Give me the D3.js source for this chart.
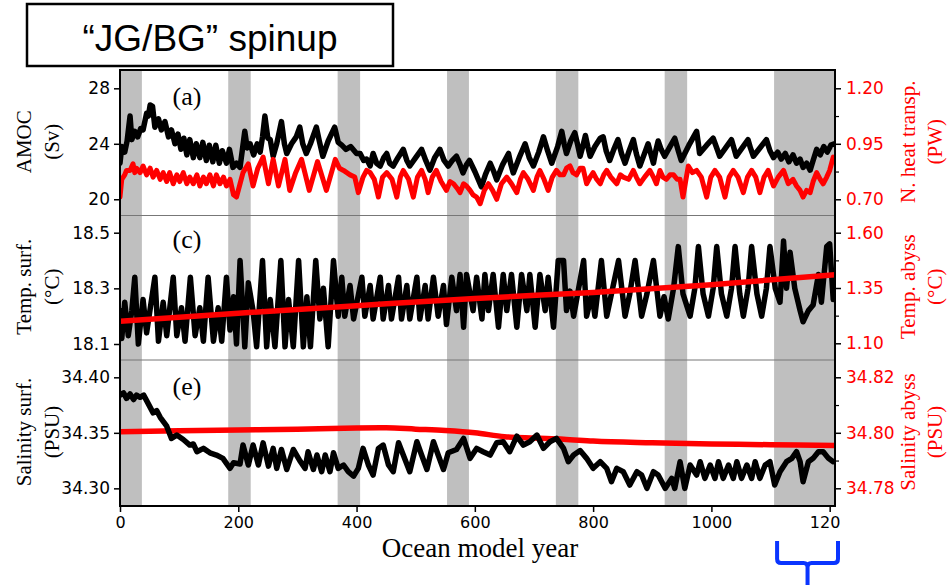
<!DOCTYPE html>
<html>
<head>
<meta charset="utf-8">
<script src="https://cdn.jsdelivr.net/npm/d3@7"></script>
<style>
  body { margin: 0; background: #fff; }
  .tick text { font-family: "DejaVu Sans", sans-serif; }
</style>
</head>
<body>
<svg width="948" height="585"></svg>
<script>
// ---- data ----
// grey spin-up windows, ocean model years
var bandStart = [0, 183, 368, 553, 737, 921, 1106];
var bandEnd   = [37, 221, 406, 590, 775, 959, 1209];

var xTicks = [0, 200, 400, 600, 800, 1000, 1200];

// (a) AMOC, Sv  [year, value]
var amoc = [[0,22.6],[3,23.8],[8,23.4],[12,24.2],[17,26.0],[20,24.3],[25,24.9],[30,24.5],[35,25.1],[39,25.0],[45,26.2],[48,26.0],[51,26.8],[55,26.7],[59,25.2],[65,25.8],[70,25.0],[76,25.6],[82,24.5],[87,25.0],[93,24.0],[98,24.7],[103,23.6],[108,24.4],[113,23.2],[118,24.3],[124,23.0],[129,24.0],[135,23.0],[140,24.1],[146,22.8],[151,23.9],[157,22.7],[162,23.9],[168,22.6],[173,23.5],[180,22.6],[185,23.6],[191,22.3],[197,22.6],[203,22.3],[207,23.6],[211,24.9],[215,23.7],[220,24.0],[226,23.2],[232,24.0],[237,23.4],[241,24.5],[245,26.0],[250,24.4],[254,24.3],[259,23.1],[265,24.0],[273,25.6],[278,24.0],[282,23.3],[290,24.0],[298,24.5],[304,25.2],[309,24.0],[315,23.3],[322,24.0],[332,25.2],[337,24.2],[343,23.1],[352,24.2],[363,25.2],[369,24.1],[375,23.9],[382,23.6],[390,23.8],[400,23.3],[406,23.3],[412,22.8],[417,22.9],[423,22.4],[428,23.3],[434,22.6],[440,22.4],[446,23.0],[451,23.3],[456,22.6],[462,22.4],[470,23.0],[479,23.6],[485,22.8],[490,22.4],[500,23.0],[510,23.6],[517,22.8],[524,22.1],[532,23.0],[541,23.6],[548,22.8],[555,22.4],[562,22.8],[569,23.1],[575,22.5],[580,21.9],[586,22.5],[591,22.8],[600,22.0],[611,20.9],[618,21.8],[626,22.6],[632,22.0],[637,21.4],[647,22.5],[657,23.3],[661,22.5],[665,21.9],[675,23.0],[685,24.0],[692,23.0],[699,22.4],[708,23.4],[716,24.5],[723,23.5],[730,22.6],[740,23.8],[747,24.9],[751,24.0],[755,23.3],[762,24.2],[769,24.8],[774,23.9],[778,23.1],[783,23.9],[787,24.6],[791,23.8],[795,23.1],[803,23.8],[812,24.4],[817,24.5],[822,23.5],[828,22.8],[835,23.6],[842,24.3],[848,23.3],[854,22.6],[861,23.5],[868,24.3],[873,23.3],[879,22.4],[886,23.2],[893,24.0],[898,23.2],[902,22.6],[906,23.5],[910,24.2],[915,23.6],[921,23.1],[930,23.8],[938,24.4],[944,23.5],[949,22.8],[962,23.9],[975,24.9],[978,24.0],[980,23.3],[992,23.9],[1003,24.4],[1009,23.7],[1014,23.1],[1024,23.7],[1034,24.3],[1038,23.7],[1042,23.1],[1052,23.7],[1062,24.3],[1066,23.7],[1071,23.1],[1082,23.7],[1093,24.3],[1099,23.5],[1105,23.0],[1112,23.4],[1118,22.9],[1125,23.3],[1131,22.7],[1138,23.2],[1144,22.6],[1150,22.9],[1155,22.3],[1161,22.6],[1167,22.1],[1172,22.8],[1178,23.6],[1184,23.2],[1190,23.8],[1196,23.4],[1202,23.9],[1208,24.0]];

// (a) northward heat transport, PW
var heat = [[0,0.71],[3,0.79],[8,0.81],[11,0.83],[17,0.83],[22,0.86],[25,0.82],[28,0.84],[34,0.82],[39,0.85],[45,0.81],[51,0.84],[56,0.80],[62,0.83],[68,0.79],[73,0.82],[79,0.78],[84,0.82],[90,0.77],[96,0.81],[101,0.78],[107,0.82],[113,0.77],[118,0.80],[124,0.77],[130,0.81],[135,0.76],[141,0.80],[146,0.77],[152,0.81],[158,0.76],[163,0.81],[169,0.77],[175,0.80],[180,0.76],[186,0.79],[192,0.72],[197,0.71],[203,0.77],[208,0.82],[217,0.86],[225,0.76],[233,0.84],[242,0.89],[251,0.77],[259,0.88],[268,0.76],[279,0.88],[287,0.74],[297,0.82],[307,0.88],[320,0.74],[334,0.87],[349,0.74],[364,0.88],[371,0.84],[378,0.83],[389,0.81],[397,0.80],[403,0.73],[411,0.80],[417,0.83],[423,0.82],[430,0.79],[437,0.71],[444,0.80],[451,0.82],[460,0.79],[468,0.71],[474,0.80],[479,0.83],[488,0.79],[496,0.71],[503,0.80],[510,0.83],[516,0.79],[521,0.73],[528,0.80],[535,0.83],[543,0.78],[552,0.74],[558,0.78],[564,0.77],[570,0.75],[575,0.73],[581,0.77],[586,0.76],[592,0.74],[597,0.72],[603,0.71],[609,0.68],[616,0.74],[623,0.77],[630,0.74],[637,0.70],[645,0.77],[654,0.80],[662,0.77],[671,0.73],[677,0.79],[682,0.82],[690,0.79],[699,0.74],[705,0.80],[710,0.83],[717,0.79],[724,0.74],[731,0.80],[738,0.83],[744,0.81],[750,0.81],[755,0.84],[761,0.85],[766,0.82],[772,0.81],[778,0.84],[783,0.84],[789,0.77],[795,0.80],[800,0.82],[806,0.79],[812,0.77],[818,0.81],[823,0.83],[830,0.80],[840,0.77],[846,0.81],[851,0.80],[860,0.79],[868,0.83],[873,0.80],[879,0.77],[887,0.80],[896,0.83],[902,0.80],[907,0.77],[913,0.83],[918,0.80],[924,0.79],[930,0.81],[936,0.81],[942,0.79],[947,0.79],[952,0.71],[957,0.79],[961,0.85],[968,0.82],[975,0.83],[983,0.80],[992,0.71],[999,0.80],[1006,0.83],[1014,0.80],[1023,0.71],[1030,0.80],[1037,0.83],[1045,0.80],[1054,0.73],[1061,0.80],[1068,0.83],[1075,0.80],[1082,0.73],[1089,0.80],[1096,0.83],[1101,0.79],[1105,0.76],[1113,0.80],[1122,0.83],[1130,0.77],[1138,0.79],[1144,0.76],[1150,0.74],[1155,0.71],[1161,0.74],[1167,0.73],[1172,0.78],[1178,0.82],[1184,0.79],[1189,0.77],[1195,0.80],[1200,0.83],[1206,0.89]];

// (c) surface temperature, degC
var tSurf = [[0,18.22],[3,18.12],[8,18.25],[14,18.13],[20,18.22],[25,18.34],[31,18.10],[39,18.26],[45,18.14],[59,18.34],[65,18.11],[73,18.25],[79,18.13],[90,18.34],[96,18.13],[104,18.23],[110,18.11],[119,18.34],[127,18.13],[135,18.23],[141,18.11],[149,18.34],[158,18.11],[166,18.23],[172,18.11],[180,18.34],[186,18.15],[192,18.27],[197,18.10],[203,18.40],[211,18.09],[217,18.32],[225,18.22],[231,18.09],[241,18.40],[248,18.09],[254,18.26],[262,18.09],[272,18.40],[279,18.09],[285,18.26],[293,18.09],[302,18.40],[310,18.09],[316,18.27],[322,18.09],[331,18.40],[338,18.19],[344,18.30],[352,18.09],[361,18.40],[369,18.20],[375,18.34],[380,18.20],[389,18.31],[395,18.19],[409,18.34],[414,18.20],[423,18.31],[428,18.19],[440,18.34],[445,18.19],[454,18.31],[459,18.19],[471,18.34],[476,18.19],[485,18.31],[490,18.19],[502,18.34],[507,18.19],[516,18.31],[521,18.19],[530,18.34],[538,18.20],[547,18.31],[552,18.17],[561,18.34],[569,18.22],[575,18.35],[581,18.16],[586,18.35],[597,18.22],[603,18.34],[612,18.19],[617,18.35],[623,18.22],[631,18.35],[640,18.16],[648,18.35],[654,18.22],[662,18.35],[671,18.16],[679,18.35],[688,18.22],[693,18.35],[702,18.16],[710,18.35],[719,18.22],[724,18.34],[733,18.16],[741,18.40],[750,18.40],[755,18.22],[761,18.29],[767,18.20],[784,18.40],[789,18.20],[798,18.28],[803,18.20],[814,18.40],[823,18.20],[831,18.28],[843,18.40],[854,18.20],[862,18.28],[871,18.40],[882,18.20],[891,18.28],[902,18.40],[913,18.20],[920,18.27],[927,18.19],[936,18.30],[944,18.45],[952,18.28],[964,18.20],[972,18.30],[978,18.45],[986,18.28],[995,18.20],[1003,18.30],[1009,18.45],[1017,18.28],[1026,18.20],[1034,18.30],[1040,18.45],[1048,18.28],[1054,18.20],[1062,18.30],[1068,18.45],[1077,18.28],[1085,18.20],[1093,18.30],[1099,18.45],[1108,18.30],[1116,18.25],[1122,18.47],[1127,18.30],[1133,18.43],[1141,18.30],[1150,18.22],[1155,18.18],[1164,18.22],[1172,18.24],[1181,18.35],[1186,18.25],[1195,18.45],[1200,18.46],[1206,18.26]];

// (c) abyssal temperature, degC
var tAbyss = [[0,1.200],[200,1.236],[400,1.270],[600,1.303],[800,1.330],[1000,1.365],[1209,1.410]];

// (e) surface salinity, PSU
var sSurf = [[0,34.384],[6,34.386],[11,34.381],[17,34.385],[23,34.380],[28,34.384],[34,34.382],[40,34.384],[45,34.379],[56,34.368],[62,34.370],[68,34.364],[79,34.356],[87,34.345],[96,34.348],[107,34.344],[118,34.339],[124,34.340],[130,34.333],[141,34.336],[152,34.332],[163,34.330],[174,34.327],[186,34.318],[192,34.323],[203,34.322],[208,34.339],[217,34.321],[225,34.339],[234,34.321],[242,34.341],[251,34.320],[259,34.336],[265,34.318],[273,34.335],[282,34.317],[293,34.335],[304,34.325],[313,34.318],[318,34.333],[327,34.317],[333,34.330],[341,34.315],[347,34.330],[355,34.315],[361,34.332],[369,34.318],[378,34.321],[386,34.315],[395,34.311],[403,34.318],[411,34.336],[420,34.321],[428,34.312],[437,34.336],[445,34.339],[454,34.321],[462,34.315],[471,34.341],[479,34.330],[490,34.315],[502,34.342],[510,34.330],[519,34.317],[530,34.342],[538,34.330],[547,34.317],[555,34.332],[569,34.335],[581,34.345],[592,34.327],[603,34.336],[614,34.333],[626,34.330],[637,34.341],[648,34.342],[659,34.333],[671,34.347],[682,34.339],[693,34.342],[705,34.348],[716,34.336],[727,34.342],[738,34.345],[750,34.336],[758,34.324],[767,34.330],[778,34.334],[789,34.327],[800,34.318],[812,34.324],[823,34.318],[831,34.306],[840,34.318],[851,34.315],[862,34.303],[874,34.315],[882,34.312],[891,34.300],[902,34.315],[910,34.312],[922,34.300],[933,34.309],[938,34.300],[947,34.324],[955,34.300],[964,34.321],[975,34.312],[981,34.324],[989,34.309],[998,34.321],[1006,34.309],[1012,34.324],[1020,34.309],[1029,34.321],[1037,34.309],[1043,34.324],[1051,34.309],[1060,34.321],[1068,34.309],[1074,34.324],[1082,34.309],[1091,34.321],[1099,34.324],[1107,34.303],[1116,34.315],[1127,34.324],[1136,34.327],[1144,34.333],[1150,34.324],[1155,34.306],[1164,34.324],[1172,34.327],[1181,34.333],[1189,34.333],[1198,34.327],[1206,34.324]];

// (e) abyssal salinity, PSU
var sAbyss = [[0,34.8004],[100,34.8007],[200,34.8010],[300,34.8013],[400,34.8017],[450,34.8018],[500,34.8013],[550,34.8008],[600,34.8000],[650,34.7986],[700,34.7981],[750,34.7977],[800,34.7970],[900,34.7964],[1000,34.7960],[1100,34.7957],[1209,34.7954]];

// ---- layout ----
var svg = d3.select("svg");
var plotL = 120, plotR = 835, plotT = 70, plotB = 506;
var x = d3.scaleLinear().domain([0, 1209]).range([plotL, plotR]);

var panels = [
  { y0: 70, y1: 215.5, letter: "(a)", letterY: 105,
    ld: [18.83, 29.32], lt: [20, 24, 28], lf: "d",
    rd: [0.627, 1.2824], rt: [0.70, 0.95, 1.20], rm: [0.825, 1.075], rf: ".2f",
    black: amoc, red: heat, redOnTop: true,
    ltitle: ["AMOC", "(Sv)"], rtitle: ["N. heat transp.", "(PW)"] },
  { y0: 215.5, y1: 360, letter: "(c)", letterY: 248,
    ld: [18.0425, 18.5618], lt: [18.1, 18.3, 18.5], lf: ".1f",
    rd: [1.0245, 1.6778], rt: [1.10, 1.35, 1.60], rm: [1.225, 1.475], rf: ".2f",
    black: tSurf, red: tAbyss, redOnTop: true,
    ltitle: ["Temp. surf.", "(°C)"], rtitle: ["Temp. abyss", "(°C)"] },
  { y0: 360, y1: 506, letter: "(e)", letterY: 395,
    ld: [34.2841, 34.4156], lt: [34.30, 34.35, 34.40], lf: ".2f",
    rd: [34.77362, 34.82623], rt: [34.78, 34.80, 34.82], rm: [34.79, 34.81], rf: ".2f",
    black: sSurf, red: sAbyss, redOnTop: false,
    ltitle: ["Salinity surf.", "(PSU)"], rtitle: ["Salinity abyss", "(PSU)"] }
];

var defs = svg.append("defs");
defs.append("clipPath").attr("id", "plot")
  .append("rect").attr("x", plotL).attr("y", plotT).attr("width", plotR - plotL).attr("height", plotB - plotT);
defs.append("clipPath").attr("id", "labels")
  .append("rect").attr("x", 0).attr("y", 0).attr("width", 840).attr("height", 585);

// grey bands
svg.append("g").selectAll("rect")
  .data(bandStart)
  .enter().append("rect")
    .attr("x", function (d) { return x(d); })
    .attr("width", function (d, i) { return x(bandEnd[i]) - x(d); })
    .attr("y", plotT)
    .attr("height", plotB - plotT)
    .attr("fill", "#bfbfbf");

// thin panel separators
svg.append("g").selectAll("line")
  .data([215.5, 360])
  .enter().append("line")
    .attr("x1", plotL).attr("x2", plotR)
    .attr("y1", function (d) { return d; }).attr("y2", function (d) { return d; })
    .attr("stroke", "#777").attr("stroke-width", 1);

panels.forEach(function (p) {
  var yl = d3.scaleLinear().domain(p.ld).range([p.y1, p.y0]);
  var yr = d3.scaleLinear().domain(p.rd).range([p.y1, p.y0]);

  // noisy series drawn straight, the smooth abyssal ones with a gentle curve
  var lineL = d3.line().x(function (d) { return x(d[0]); }).y(function (d) { return yl(d[1]); });
  var lineR = d3.line().x(function (d) { return x(d[0]); }).y(function (d) { return yr(d[1]); })
    .curve(p.red.length > 20 ? d3.curveLinear : d3.curveMonotoneX);

  var g = svg.append("g").attr("clip-path", "url(#plot)");
  var drawBlack = function () {
    g.append("path").datum(p.black).attr("d", lineL)
      .attr("fill", "none").attr("stroke", "#000").attr("stroke-width", 5.5)
      .attr("stroke-linejoin", "round").attr("stroke-linecap", "round");
  };
  var drawRed = function () {
    g.append("path").datum(p.red).attr("d", lineR)
      .attr("fill", "none").attr("stroke", "#ff0000").attr("stroke-width", p.red.length > 20 ? 5 : 5.5)
      .attr("stroke-linejoin", "round").attr("stroke-linecap", "round");
  };
  if (p.redOnTop) { drawBlack(); drawRed(); } else { drawRed(); drawBlack(); }

  // left axis
  var ax = svg.append("g").attr("transform", "translate(" + plotL + ",0)")
    .call(d3.axisLeft(yl).tickValues(p.lt).tickFormat(d3.format(p.lf)).tickSize(6).tickPadding(4));
  ax.select(".domain").remove();
  ax.selectAll(".tick line").attr("stroke-width", 1.5);
  ax.selectAll(".tick text").attr("font-size", 17).attr("fill", "#000");

  // right axis (red labels)
  var ar = svg.append("g").attr("transform", "translate(" + plotR + ",0)")
    .call(d3.axisRight(yr).tickValues(p.rt).tickFormat(d3.format(p.rf)).tickSize(6).tickPadding(5));
  ar.select(".domain").remove();
  ar.selectAll(".tick line").attr("stroke-width", 1.5);
  ar.selectAll(".tick text").attr("font-size", 17).attr("fill", "#ff0000");
  var am = svg.append("g").attr("transform", "translate(" + plotR + ",0)")
    .call(d3.axisRight(yr).tickValues(p.rm).tickFormat("").tickSize(4));
  am.select(".domain").remove();
  am.selectAll(".tick line").attr("stroke-width", 1.2);

  // panel letter
  svg.append("text").attr("x", 187).attr("y", p.letterY)
    .attr("text-anchor", "middle")
    .attr("font-family", "Liberation Serif, Times New Roman, serif")
    .attr("font-size", 26).text(p.letter);

  var cy = (p.y0 + p.y1) / 2 - 1;
  // left titles (two rotated lines)
  [[p.ltitle[0], 23.5], [p.ltitle[1], 52]].forEach(function (t) {
    svg.append("text")
      .attr("transform", "translate(" + t[1] + "," + cy + ") rotate(-90)")
      .attr("text-anchor", "middle").attr("dominant-baseline", "central")
      .attr("font-family", "Liberation Serif, Times New Roman, serif")
      .attr("font-size", 21).attr("fill", "#000").text(t[0]);
  });
  [[p.rtitle[0], 908], [p.rtitle[1], 935]].forEach(function (t) {
    svg.append("text")
      .attr("transform", "translate(" + t[1] + "," + cy + ") rotate(-90)")
      .attr("text-anchor", "middle").attr("dominant-baseline", "central")
      .attr("font-family", "Liberation Serif, Times New Roman, serif")
      .attr("font-size", 21).attr("fill", "#ff0000").text(t[0]);
  });
});

// frame
svg.append("rect").attr("x", plotL).attr("y", plotT)
  .attr("width", plotR - plotL).attr("height", plotB - plotT)
  .attr("fill", "none").attr("stroke", "#000").attr("stroke-width", 2);

// bottom axis
var bx = svg.append("g").attr("transform", "translate(0," + plotB + ")")
  .attr("clip-path", "url(#labels)")
  .call(d3.axisBottom(x).tickValues(xTicks).tickFormat(d3.format("d")).tickSize(6).tickPadding(5));
bx.select(".domain").remove();
bx.selectAll(".tick line").attr("stroke-width", 1.5);
bx.selectAll(".tick text").attr("font-size", 16).attr("fill", "#000");

// top axis; the labels under the title box are not shown
var tx = svg.append("g").attr("transform", "translate(0," + plotT + ")")
  .attr("clip-path", "url(#labels)")
  .call(d3.axisTop(x).tickValues(xTicks).tickFormat(d3.format("d")).tickSize(6).tickPadding(7));
tx.select(".domain").remove();
tx.selectAll(".tick line").attr("stroke-width", 1.5);
tx.selectAll(".tick text").attr("font-size", 16).attr("fill", "#000");
tx.selectAll(".tick").filter(function (d) { return x(d) < 400; }).select("text").remove();

// x title
svg.append("text").attr("x", 480).attr("y", 557)
  .attr("text-anchor", "middle")
  .attr("font-family", "Liberation Serif, Times New Roman, serif")
  .attr("font-size", 27).text("Ocean model year");

// title box
svg.append("rect").attr("x", 27).attr("y", 4).attr("width", 366).attr("height", 62)
  .attr("fill", "#fff").attr("stroke", "#000").attr("stroke-width", 2.5);
svg.append("text").attr("x", 210).attr("y", 51)
  .attr("text-anchor", "middle")
  .attr("font-family", "Liberation Sans, Arial, sans-serif")
  .attr("font-size", 37).text("\u201CJG/BG\u201D spinup");

// blue bracket under the last window
var bl = x(bandStart[6]) + 3, br = x(1209) + 3, bm = (bl + br) / 2;
svg.append("path")
  .attr("d", "M" + bl + ",541 V559 Q" + bl + ",563 " + (bl + 4) + ",563 H" + (bm - 4) +
             " Q" + bm + ",563 " + bm + ",567 V585 M" + bm + ",567 Q" + bm + ",563 " + (bm + 4) +
             ",563 H" + (br - 4) + " Q" + br + ",563 " + br + ",559 V541")
  .attr("fill", "none").attr("stroke", "#0a35ff").attr("stroke-width", 4);
</script>
</body>
</html>
